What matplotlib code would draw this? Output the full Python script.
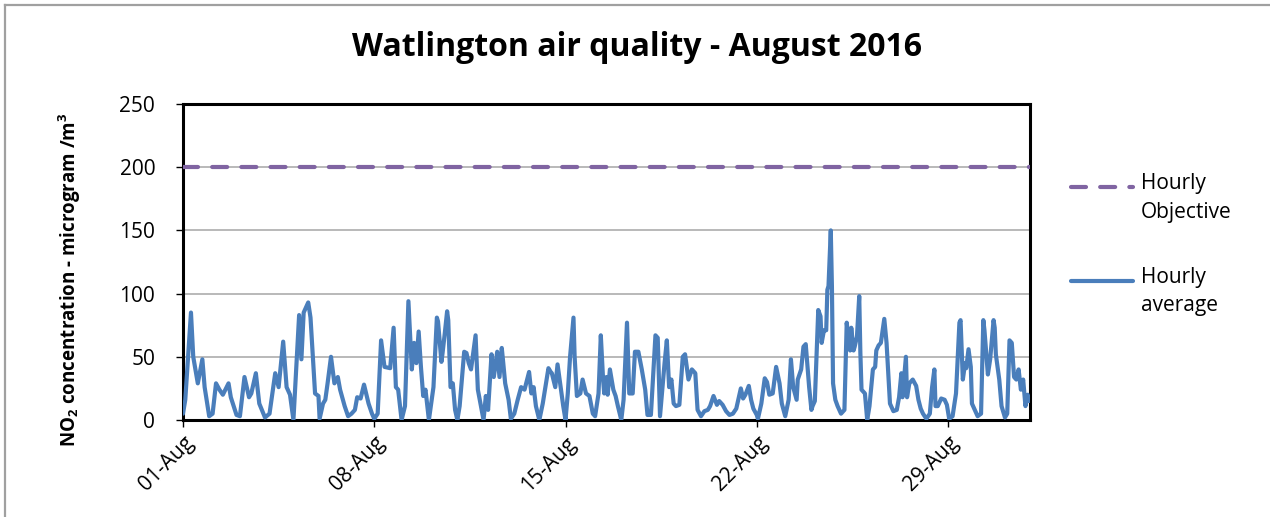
import matplotlib
matplotlib.use("Agg")
import matplotlib.pyplot as plt
import matplotlib.dates as mdates
from matplotlib.lines import Line2D
from matplotlib.legend_handler import HandlerLine2D
import pandas as pd

# ---- data ----
hours = [0, 2, 7, 9, 12, 13, 17, 19, 23, 26, 29, 32, 35, 40, 42, 47, 50, 54, 58, 60, 64, 67, 72, 76, 81, 84, 88,
         91, 94, 97, 102, 104, 106, 110, 112, 116, 119, 120, 123, 125, 127, 130, 133, 136, 138, 142, 145, 148, 151,
         153, 156, 159, 163, 166, 168, 171, 174, 177, 182,
         185, 187, 189, 192, 195, 198, 201, 203, 205, 207, 209, 211, 213, 216, 220, 223, 224, 227, 228, 230, 232,
         233, 235, 237, 239, 241, 243, 247, 249, 251, 253, 257, 259, 264, 266, 268, 271, 273, 276,
         278, 280, 281, 283, 286, 288, 291, 294, 297, 300, 304, 306, 308, 310, 313, 316, 321, 323, 324, 327, 329,
         332, 334, 336, 338, 340, 343, 344, 346, 349, 351, 354, 357, 360, 362, 365, 367,
         369, 370, 372, 373, 375, 378, 380, 382, 385, 387, 390, 392, 395, 397, 400, 403, 406, 408, 411, 415, 417,
         419, 421, 423, 425, 427, 429, 431, 433, 436, 439, 441, 444, 447, 450, 452, 455, 458,
         461, 463, 466, 469, 471, 474, 477, 480, 483, 486, 490, 492, 494, 497, 499, 501, 504, 505, 508, 511, 513,
         515, 518, 521, 524, 526, 529, 532, 534, 536, 539, 540, 543, 545, 547, 550, 552,
         553, 555, 558, 560, 561, 563, 565, 566, 567, 569, 570, 571, 573, 575, 578, 581, 583, 584, 586, 587, 589,
         590, 592, 594, 595, 596, 599, 601, 603, 606, 608, 609, 611, 613, 616, 618, 619, 621, 624, 627, 629, 631,
         632, 635, 636, 638, 641, 644,
         646, 648, 650, 653, 656, 658, 660, 661, 663, 666, 669, 671, 673, 676, 679, 682, 683, 685, 687, 688, 690,
         692, 693, 695, 698, 701, 703, 704, 707, 709, 712, 713, 714, 717, 719, 722, 724, 726, 728, 730, 732, 734,
         736, 738, 740, 742, 743]
hourly_average = [5, 16, 85, 50, 34, 29, 48, 26, 3, 5, 29, 24, 20, 29, 18, 4, 3, 34, 18, 21, 37, 13, 2, 5, 37, 26, 62,
                  26, 20, 0, 83, 48, 85, 93, 81, 21, 19, 1, 13, 16, 29, 50, 29, 34, 24, 11, 3, 5, 8,
                  18, 17, 28, 13, 5, 1, 5, 63, 42, 41,
                  73, 26, 24, 0, 11, 94, 40, 61, 45, 70, 42, 19, 24, 0, 26, 81, 78, 46, 53, 69, 86,
                  79, 26, 29, 8, 0, 11, 54, 53, 45, 40, 67, 24, 0, 19, 8, 52, 34, 54,
                  34, 57, 48, 29, 16, 1, 5, 16, 26, 24, 38, 21, 26, 11, 0, 13, 41, 38, 37, 26, 44,
                  24, 11, 0, 21, 50, 81, 50, 19, 21, 32, 21, 19, 5, 3, 21, 67,
                  32, 21, 34, 20, 40, 24, 19, 11, 0, 16, 77, 21, 21, 54, 54, 40, 24, 4, 4, 67, 65,
                  3, 24, 45, 63, 26, 32, 13, 11, 12, 50, 52, 32, 40, 37, 8, 3, 7,
                  8, 11, 19, 12, 15, 12, 7, 4, 5, 9, 25, 17, 20, 27, 16, 9, 4, 1, 13, 33, 30,
                  20, 21, 42, 29, 13, 3, 16, 48, 26, 16, 32, 40, 58, 60, 26, 8,
                  11, 15, 87, 82, 61, 71, 71, 103, 106, 150, 106, 29, 16, 11, 5, 8, 77, 69, 55, 73, 55,
                  58, 66, 98, 53, 24, 21, 0, 11, 40, 42, 55, 59, 61, 80, 61, 45, 13, 7, 8, 18, 37,
                  18, 50, 18, 29, 32, 27,
                  16, 9, 5, 1, 5, 26, 40, 11, 11, 17, 16, 12, 1, 3, 21, 77, 79, 32, 45, 41, 56,
                  42, 13, 9, 3, 5, 79, 71, 36, 48, 79, 73, 52, 32, 11, 2, 5, 63, 61, 34, 32, 40,
                  24, 32, 11, 20, 15]
objective_value = 200
month_start = "2016-08-01"
month_end = "2016-09-01"
tick_dates = ["2016-08-01", "2016-08-08", "2016-08-15", "2016-08-22", "2016-08-29"]
title = "Watlington air quality - August 2016"
legend_labels = ["Hourly\nObjective", "Hourly\naverage"]

FONT = "Open Sans"
plt.rcParams["font.family"] = [FONT, "DejaVu Sans"]
plt.rcParams["mathtext.fontset"] = "custom"
plt.rcParams["mathtext.rm"] = FONT
plt.rcParams["mathtext.bf"] = FONT + ":bold"

W, H = 1270, 517
fig = plt.figure(figsize=(W / 100, H / 100), dpi=100)
ax = fig.add_axes([183 / W, 1 - 420 / H, (1030 - 183) / W, (420 - 104) / H])

dates = pd.Timestamp(month_start) + pd.to_timedelta(hours, unit="h")
t0, t1 = pd.Timestamp(month_start), pd.Timestamp(month_end)

LW = 3.0
obj_line, = ax.plot([t0, t1], [objective_value, objective_value], color="#8064A2", lw=LW,
                    dashes=(3.6, 3.4), dash_capstyle="round", solid_capstyle="round", zorder=3)
avg_line, = ax.plot(dates, hourly_average, color="#4A7EBB", lw=LW, solid_joinstyle="round",
                    solid_capstyle="round", zorder=4)

ax.set_xlim(t0, t1)
ax.set_ylim(0, 250)
ax.set_yticks(range(0, 251, 50))
ax.set_xticks(pd.to_datetime(tick_dates))
ax.xaxis.set_major_formatter(mdates.DateFormatter("%d-%b"))
ax.grid(axis="y", color="#a6a6a6", lw=1.1, zorder=1)
ax.set_axisbelow(True)
for s in ax.spines.values():
    s.set_linewidth(2.2)
    s.set_color("black")
ax.tick_params(axis="y", direction="out", length=5, width=1, labelsize=15, pad=15)
ax.tick_params(axis="x", direction="out", length=5, width=1, labelsize=15, pad=4)
for lab in ax.get_xticklabels():
    lab.set_rotation(45)
    lab.set_ha("right")
    lab.set_rotation_mode("anchor")

fig.text(637 / W, 1 - 48 / H, title, ha="center", va="center", fontsize=23, fontweight="bold")
fig.text(70 / W, 1 - 280 / H, r"NO$_{\mathbf{2}}$ concentration - microgram /m$^{\mathbf{3}}$",
         rotation=90, ha="center", va="center", fontsize=13.5, fontweight="bold")


class FirstLineHandler(HandlerLine2D):
    """Put the legend line level with the first line of a two-line label."""
    def create_artists(self, legend, orig_handle, xdescent, ydescent, width, height, fontsize, trans):
        arts = super().create_artists(legend, orig_handle, xdescent, ydescent, width, height, fontsize, trans)
        for a in arts:
            a.set_ydata([y + 0.55 * fontsize for y in a.get_ydata()])
        return arts


leg = ax.legend([obj_line, avg_line], legend_labels, loc="upper left",
                bbox_to_anchor=(1052 / W, 1 - 154 / H), bbox_transform=fig.transFigure,
                frameon=False, fontsize=15, handlelength=3.0, handletextpad=0.35, labelspacing=2.1,
                handler_map={Line2D: FirstLineHandler()})
for t in leg.get_texts():
    t.set_linespacing(1.5)

# outer chart border (top and left visible)
fig.add_artist(Line2D([5 / W, 1], [1 - 5 / H, 1 - 5 / H], transform=fig.transFigure, color="#a0a0a0", lw=1.6))
fig.add_artist(Line2D([5 / W, 5 / W], [0, 1 - 5 / H], transform=fig.transFigure, color="#a0a0a0", lw=1.6))

fig.savefig("out.png", dpi=100)
